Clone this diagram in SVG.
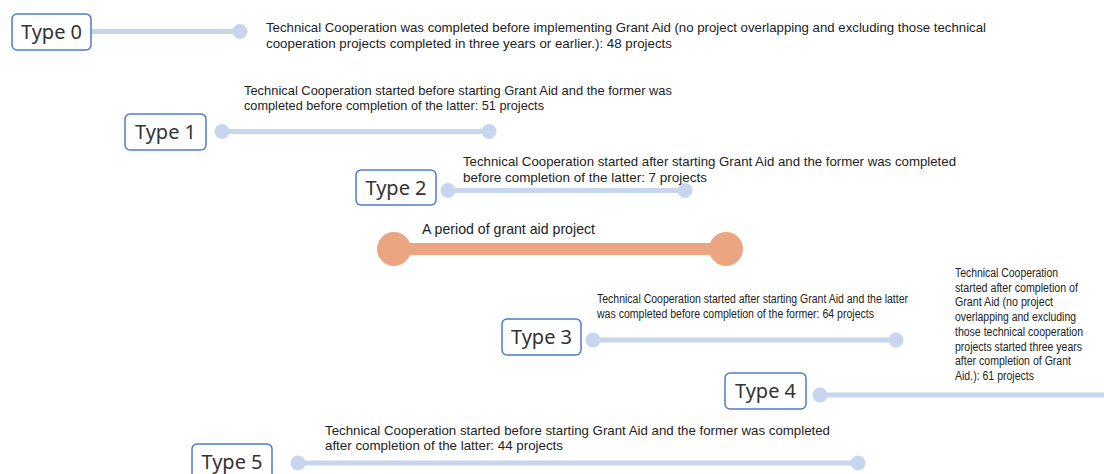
<svg xmlns="http://www.w3.org/2000/svg" width="1104" height="474" viewBox="0 0 1104 474">
<defs>
<style>
.box{fill:#fff;stroke:#4d7ccc;stroke-width:1.5}
.lbl{font-family:"Noto Sans","Liberation Sans",sans-serif;font-size:20px;fill:#333;text-anchor:middle}
.tl{stroke:#c7d5ee;stroke-width:5;fill:none}
.td{fill:#c7d5ee}
.txt{font-family:"Liberation Sans",Arial,sans-serif;font-size:13.5px;fill:#222}
.sm{font-family:"Liberation Sans",Arial,sans-serif;font-size:12px;fill:#222}
.ga{stroke:#eca581;stroke-width:12}
.gd{fill:#eca581}
</style>
</defs>
<rect width="1104" height="474" fill="#fff"/>
<g id="connectors">
<line class="tl" x1="91" y1="31.5" x2="240" y2="31.5"/>
<circle class="td" cx="240" cy="31.5" r="7.5"/>
<line class="tl" x1="222" y1="131.5" x2="489" y2="131.5"/>
<circle class="td" cx="222" cy="131.5" r="7.5"/>
<circle class="td" cx="489" cy="131.5" r="7.5"/>
<line class="tl" x1="448" y1="190.5" x2="685" y2="190.5"/>
<circle class="td" cx="448" cy="190.5" r="7.5"/>
<circle class="td" cx="685" cy="190.5" r="7.5"/>
<line class="ga" x1="394" y1="249" x2="726" y2="249"/>
<circle class="gd" cx="394" cy="249" r="17"/>
<circle class="gd" cx="726" cy="249" r="17"/>
<line class="tl" x1="593" y1="340" x2="896" y2="340"/>
<circle class="td" cx="593" cy="340" r="7.5"/>
<circle class="td" cx="896" cy="340" r="7.5"/>
<line class="tl" x1="820" y1="395" x2="1110" y2="395"/>
<circle class="td" cx="820" cy="395" r="7.5"/>
<line class="tl" x1="298" y1="463" x2="858" y2="463"/>
<circle class="td" cx="298" cy="463" r="7.5"/>
<circle class="td" cx="858" cy="463" r="7.5"/>
</g>
<g id="type0">
<rect class="box" x="12" y="14" width="79" height="36" rx="5"/>
<text class="lbl" x="51.5" y="39">Type 0</text>
<text class="txt" x="266" y="32" textLength="720" lengthAdjust="spacingAndGlyphs">Technical Cooperation was completed before implementing Grant Aid (no project overlapping and excluding those technical</text>
<text class="txt" x="266" y="47.5" textLength="406" lengthAdjust="spacingAndGlyphs">cooperation projects completed in three years or earlier.): 48 projects</text>
</g>
<g id="type1">
<rect class="box" x="125" y="114" width="81" height="36" rx="5"/>
<text class="lbl" x="165.5" y="139">Type 1</text>
<text class="txt" x="244" y="94.5" textLength="428" lengthAdjust="spacingAndGlyphs">Technical Cooperation started before starting Grant Aid and the former was</text>
<text class="txt" x="244" y="110" textLength="300" lengthAdjust="spacingAndGlyphs">completed before completion of the latter: 51 projects</text>
</g>
<g id="type2">
<rect class="box" x="356" y="170" width="80" height="35" rx="5"/>
<text class="lbl" x="396" y="195">Type 2</text>
<text class="txt" x="463" y="166" textLength="493" lengthAdjust="spacingAndGlyphs">Technical Cooperation started after starting Grant Aid and the former was completed</text>
<text class="txt" x="463" y="181.5" textLength="244" lengthAdjust="spacingAndGlyphs">before completion of the latter: 7 projects</text>
</g>
<g id="grant">
<text class="txt" style="font-size:15px" x="422" y="234" textLength="173" lengthAdjust="spacingAndGlyphs">A period of grant aid project</text>
</g>
<g id="type3">
<rect class="box" x="502" y="319" width="79" height="36" rx="5"/>
<text class="lbl" x="541.5" y="344">Type 3</text>
<text class="sm" x="597" y="303" textLength="311" lengthAdjust="spacingAndGlyphs">Technical Cooperation started after starting Grant Aid and the latter</text>
<text class="sm" x="597" y="318" textLength="277" lengthAdjust="spacingAndGlyphs">was completed before completion of the former: 64 projects</text>
</g>
<g id="type4">
<rect class="box" x="725" y="373" width="81" height="36" rx="5"/>
<text class="lbl" x="765.5" y="398">Type 4</text>
<text class="sm" x="955" y="277" textLength="103" lengthAdjust="spacingAndGlyphs">Technical Cooperation</text>
<text class="sm" x="955" y="291.7" textLength="123" lengthAdjust="spacingAndGlyphs">started after completion of</text>
<text class="sm" x="955" y="306.4" textLength="98" lengthAdjust="spacingAndGlyphs">Grant Aid (no project</text>
<text class="sm" x="955" y="321.1" textLength="121" lengthAdjust="spacingAndGlyphs">overlapping and excluding</text>
<text class="sm" x="955" y="335.8" textLength="128" lengthAdjust="spacingAndGlyphs">those technical cooperation</text>
<text class="sm" x="955" y="350.5" textLength="127" lengthAdjust="spacingAndGlyphs">projects started three years</text>
<text class="sm" x="955" y="365.2" textLength="116" lengthAdjust="spacingAndGlyphs">after completion of Grant</text>
<text class="sm" x="955" y="379.9" textLength="79" lengthAdjust="spacingAndGlyphs">Aid.): 61 projects</text>
</g>
<g id="type5">
<rect class="box" x="192" y="444" width="80" height="36" rx="5"/>
<text class="lbl" x="232" y="469">Type 5</text>
<text class="txt" x="325" y="435" textLength="505" lengthAdjust="spacingAndGlyphs">Technical Cooperation started before starting Grant Aid and the former was completed</text>
<text class="txt" x="325" y="450" textLength="238" lengthAdjust="spacingAndGlyphs">after completion of the latter: 44 projects</text>
</g>
</svg>
